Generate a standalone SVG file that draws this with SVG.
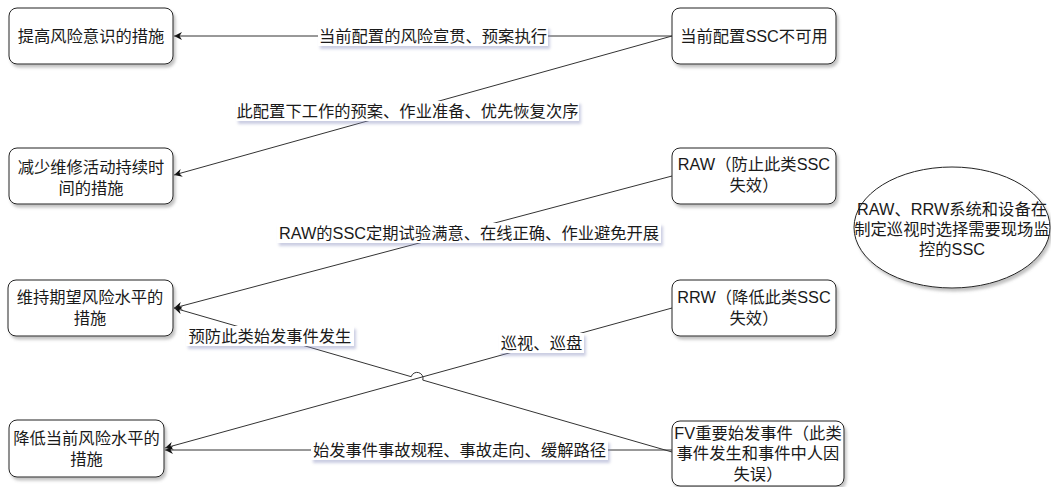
<svg xmlns="http://www.w3.org/2000/svg" width="1051" height="487" viewBox="0 0 1051 487">
<style>
.n{fill:#fff;stroke:#222;stroke-width:1;filter:url(#sh)}
.e{fill:none;stroke:#333;stroke-width:1}
.lb{fill:#fff;stroke:none;filter:url(#lsh)}
text{font-family:"Liberation Sans","Noto Sans CJK SC",sans-serif;font-size:16.3px;fill:#1a1a1a;text-anchor:middle;dominant-baseline:central}
</style>
<defs>
<filter id="sh" x="-10%" y="-10%" width="130%" height="140%"><feDropShadow dx="2" dy="3" stdDeviation="1.5" flood-color="#777" flood-opacity="0.45"/></filter>
<filter id="lsh" x="-10%" y="-20%" width="130%" height="160%"><feDropShadow dx="2" dy="3" stdDeviation="1.5" flood-color="#8a8fc0" flood-opacity="0.45"/></filter>
<marker id="ar" markerUnits="userSpaceOnUse" markerWidth="10" markerHeight="10" refX="8" refY="4" orient="auto"><path d="M0,0 L8,4 L0,8 L2.5,4 Z" fill="#111"/></marker>
</defs>
<g id="connectors">
<path class="e" d="M672,36 L174,36" marker-end="url(#ar)"/>
<path class="e" d="M672,36 L174,175" marker-end="url(#ar)"/>
<path class="e" d="M672,176 L174,308" marker-end="url(#ar)"/>
<path class="e" d="M672,308 L165,448" marker-end="url(#ar)"/>
<path class="e" d="M672,452 L422.8,380.1 A6,6 0 0 0 411.2,376.7 L174,308" marker-end="url(#ar)"/>
<path class="e" d="M672,450 L165,450" marker-end="url(#ar)"/>
<rect class="lb" x="318" y="26" width="230" height="20"/>
<text x="433" y="36">当前配置的风险宣贯、预案执行</text>
<rect class="lb" x="236" y="101" width="343" height="20"/>
<text x="407.5" y="111">此配置下工作的预案、作业准备、优先恢复次序</text>
<rect class="lb" x="277" y="223" width="384" height="20"/>
<text x="469" y="233">RAW的SSC定期试验满意、在线正确、作业避免开展</text>
<rect class="lb" x="499" y="333" width="85" height="20"/>
<text x="541.5" y="343">巡视、巡盘</text>
<rect class="lb" x="186" y="326" width="168" height="20"/>
<text x="270" y="336">预防此类始发事件发生</text>
<rect class="lb" x="311" y="440" width="297" height="20"/>
<text x="459.5" y="450">始发事件事故规程、事故走向、缓解路径</text>
</g>
<g id="n1"><rect class="n" x="9" y="8" width="164" height="56" rx="8"/><text x="91" y="36">提高风险意识的措施</text></g>
<g id="n2"><rect class="n" x="9" y="148" width="164" height="56" rx="8"/><text x="91" y="167">减少维修活动持续时</text><text x="91" y="188">间的措施</text></g>
<g id="n3"><rect class="n" x="8" y="280" width="165" height="56" rx="8"/><text x="90" y="297">维持期望风险水平的</text><text x="90" y="318">措施</text></g>
<g id="n4"><rect class="n" x="9" y="420" width="155" height="57" rx="8"/><text x="86.5" y="438">降低当前风险水平的</text><text x="86.5" y="459">措施</text></g>
<g id="n5"><rect class="n" x="672" y="8" width="164" height="56" rx="8"/><text x="754" y="36">当前配置SSC不可用</text></g>
<g id="n6"><rect class="n" x="672" y="148" width="164" height="56" rx="8"/><text x="754" y="164">RAW（防止此类SSC</text><text x="754" y="185">失效）</text></g>
<g id="n7"><rect class="n" x="672" y="280" width="164" height="56" rx="8"/><text x="754" y="297">RRW（降低此类SSC</text><text x="754" y="318">失效）</text></g>
<g id="n8"><rect class="n" x="672" y="421" width="172" height="65" rx="8"/><text x="758" y="433">FV重要始发事件（此类</text><text x="758" y="453">事件发生和事件中人因</text><text x="758" y="474">失误）</text></g>
<g id="n9"><ellipse class="n" cx="952" cy="227.5" rx="98" ry="60.5"/><text x="952" y="209">RAW、RRW系统和设备在</text><text x="952" y="229">制定巡视时选择需要现场监</text><text x="952" y="249">控的SSC</text></g>
</svg>
